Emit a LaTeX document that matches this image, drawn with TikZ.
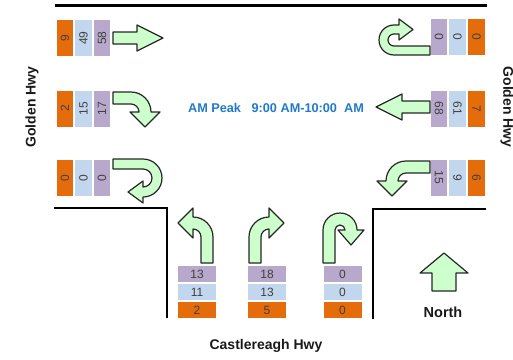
\documentclass[tikz,border=0pt]{standalone}
\usepackage{fontspec}
\setmainfont{Liberation Sans}
\definecolor{cOr}{HTML}{E46C0A}
\definecolor{cBl}{HTML}{C2D6EE}
\definecolor{cPu}{HTML}{B8A8CC}
\definecolor{cGr}{HTML}{CCFFCC}
\definecolor{cPk}{HTML}{1F7ACC}
\tikzset{
  road/.style={draw=black, line width=2.7pt},
  turnarrow/.style={fill=cGr, draw=black!85, line width=1.2pt, line join=round},
  cell/.style={inner sep=0pt, outer sep=0pt, font=\fontsize{12}{13}\selectfont, text=black!75},
  vcell/.style={cell, minimum width=36pt, minimum height=16.5pt},
  hcell/.style={cell, minimum width=38pt, minimum height=16pt},
  roadlabel/.style={font=\bfseries\fontsize{14}{16}\selectfont, text=black!90, inner sep=0pt},
}
\begin{document}
\begin{tikzpicture}[x=1pt,y=-1pt]
\useasboundingbox (0,0) rectangle (513,359);
% roads
\draw[road, line width=3pt] (55,5) -- (487,5);
\draw[road] (54,208) -- (167,208) -- (167,318);
\draw[road] (373,319) -- (373,209) -- (486,209);
% left boxes
\node[vcell, fill=cOr, rotate=90] (l1o) at (65,38) {9};
\node[vcell, fill=cBl, rotate=90] (l1b) at (83.5,38) {49};
\node[vcell, fill=cPu, rotate=90] (l1p) at (102,38) {58};
\node[vcell, fill=cOr, rotate=90] (l2o) at (65,108.5) {2};
\node[vcell, fill=cBl, rotate=90] (l2b) at (83.5,108.5) {15};
\node[vcell, fill=cPu, rotate=90] (l2p) at (102,108.5) {17};
\node[vcell, fill=cOr, rotate=90] (l3o) at (65,178) {0};
\node[vcell, fill=cBl, rotate=90] (l3b) at (83.5,178) {0};
\node[vcell, fill=cPu, rotate=90] (l3p) at (102,178) {0};
% right boxes
\node[vcell, fill=cPu, rotate=-90] (r1p) at (439,37) {0};
\node[vcell, fill=cBl, rotate=-90] (r1b) at (457.5,37) {0};
\node[vcell, fill=cOr, rotate=-90] (r1o) at (476.5,37) {0};
\node[vcell, fill=cPu, rotate=-90] (r2p) at (439,108.5) {68};
\node[vcell, fill=cBl, rotate=-90] (r2b) at (457.5,108.5) {61};
\node[vcell, fill=cOr, rotate=-90] (r2o) at (476.5,108.5) {7};
\node[vcell, fill=cPu, rotate=-90] (r3p) at (439,177.5) {15};
\node[vcell, fill=cBl, rotate=-90] (r3b) at (457.5,177.5) {9};
\node[vcell, fill=cOr, rotate=-90] (r3o) at (476.5,177.5) {6};
% bottom boxes
\node[hcell, fill=cPu] (b1p) at (197,274) {13};
\node[hcell, fill=cBl] (b1b) at (197,292) {11};
\node[hcell, fill=cOr] (b1o) at (197,310) {2};
\node[hcell, fill=cPu] (b2p) at (267,274) {18};
\node[hcell, fill=cBl] (b2b) at (267,292) {13};
\node[hcell, fill=cOr] (b2o) at (267,310) {5};
\node[hcell, fill=cPu] (b3p) at (342.5,274) {0};
\node[hcell, fill=cBl] (b3b) at (342.5,292) {0};
\node[hcell, fill=cOr] (b3o) at (342.5,310) {0};
% left arrows
\draw[turnarrow] (113,32) -- (137,32) -- (137,25) -- (163,38) -- (137,51) -- (137,44) -- (113,44) -- cycle;
\draw[turnarrow] (113,92) -- (131,92) .. controls (142,92) and (151,101) .. (151,112) -- (160,112) -- (145,127) -- (130,112) -- (139,112) .. controls (139,107.6) and (135.4,104) .. (131,104) -- (113,104) -- cycle;
\draw[turnarrow] (113,159) -- (143,159) .. controls (153.5,159) and (162,167.5) .. (162,178) .. controls (162,188.5) and (153.5,197) .. (143,197) -- (143,203) -- (128,192) -- (143,181) -- (143,187) .. controls (148,187) and (152,183) .. (152,178) .. controls (152,173) and (148,169) .. (143,169) -- (113,169) -- cycle;
% right arrows
\draw[turnarrow] (430,55) -- (394,55) .. controls (385.7,55) and (379,48.3) .. (379,40) .. controls (379,31.7) and (385.7,25) .. (394,25) -- (399,25) -- (399,19) -- (413,29.5) -- (399,40) -- (399,34) -- (394,34) .. controls (390.7,34) and (388,36.7) .. (388,40) .. controls (388,43.3) and (390.7,46) .. (394,46) -- (430,46) -- cycle;
\draw[turnarrow] (430,101) -- (402,101) -- (402,94) -- (376,107) -- (402,120) -- (402,113) -- (430,113) -- cycle;
\draw[turnarrow] (430,161) -- (406,161) .. controls (395,161) and (386,170) .. (386,181) -- (377,181) -- (392,196) -- (407,181) -- (398,181) .. controls (398,176.6) and (401.6,173) .. (406,173) -- (430,173) -- cycle;
% bottom arrows
\draw[turnarrow] (213,263) -- (213,237) .. controls (213,226) and (204,217) .. (193,217) -- (193,208) -- (178,223) -- (193,238) -- (193,229) .. controls (197.4,229) and (201,232.6) .. (201,237) -- (201,263) -- cycle;
\draw[turnarrow] (249,263) -- (249,237) .. controls (249,226) and (258,217) .. (269,217) -- (269,208) -- (284,223) -- (269,238) -- (269,229) .. controls (264.6,229) and (261,232.6) .. (261,237) -- (261,263) -- cycle;
\draw[turnarrow] (323,263) -- (323,230) .. controls (323,220.6) and (330.6,213) .. (340,213) .. controls (349.4,213) and (357,220.6) .. (357,230) -- (364,230) -- (351,245) -- (338,230) -- (345,230) .. controls (345,227.2) and (342.8,225) .. (340,225) .. controls (337.2,225) and (335,227.2) .. (335,230) -- (335,263) -- cycle;
% north arrow
\draw[turnarrow] (432,291) -- (432,273) -- (420,273) -- (444,253) -- (468,273) -- (456,273) -- (456,291) -- cycle;
% labels
\node[roadlabel, rotate=90] (gl) at (32,107) {Golden Hwy};
\node[roadlabel, rotate=-90] (gr) at (507,107) {Golden Hwy};
\node[roadlabel] (ch) at (266,346) {Castlereagh Hwy};
\node[roadlabel, font=\bfseries\fontsize{14.5}{16}\selectfont] (north) at (443,312) {North};
\node[font=\bfseries\fontsize{12.7}{14}\selectfont, text=cPk, inner sep=0pt] (peak) at (276,108) {AM Peak\ \ \ 9:00 AM-10:00\ \ AM};
\end{tikzpicture}
\end{document}
